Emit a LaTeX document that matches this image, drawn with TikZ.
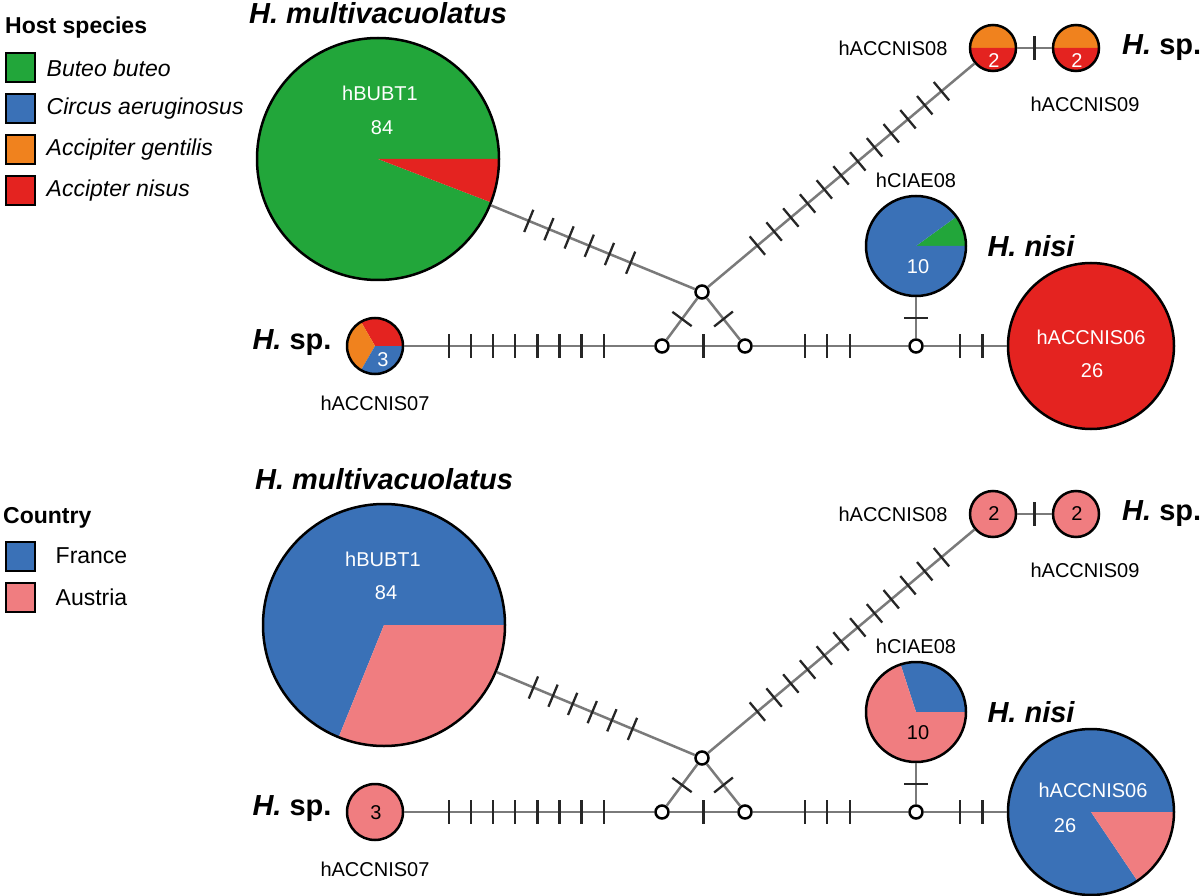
\documentclass[tikz,border=0pt]{standalone}
\usepackage{fontspec}
\setmainfont{Liberation Sans}
\usetikzlibrary{positioning}

\definecolor{hostgreen}{HTML}{22A63A}
\definecolor{hostblue}{HTML}{3A71B7}
\definecolor{hostorange}{HTML}{F0821E}
\definecolor{hostred}{HTML}{E42320}
\definecolor{austriapink}{HTML}{F07D80}
\definecolor{edgegray}{HTML}{7A7A7A}
\definecolor{tickgray}{HTML}{262626}

\tikzset{
  hap/.style={circle, draw=black, line width=2.5pt, inner sep=0pt},
  median/.style={circle, draw=black, fill=white, line width=2.5pt, minimum size=13pt, inner sep=0pt},
  link/.style={draw=edgegray, line width=2.5pt},
  tickspot/.style={sloped, minimum height=24pt, minimum width=0pt, inner sep=0pt, outer sep=0pt},
  tickmark/.style={draw=tickgray, line width=2.3pt},
  lbl/.style={font=\fontsize{20}{24}\selectfont, inner sep=0pt},
  sptitle/.style={font=\fontsize{29}{34}\selectfont\bfseries, inner sep=0pt},
  legsq/.style={draw=black, line width=2pt, minimum size=29pt, inner sep=0pt},
  legtxt/.style={font=\fontsize{23}{28}\selectfont, inner sep=0pt, anchor=west},
  leghead/.style={font=\fontsize{23}{28}\selectfont\bfseries, inner sep=0pt, anchor=west},
}

% centre, radius, start angle, end angle, colour
\newcommand{\pieslice}[5]{\fill[#5] (#1) -- ++(#3:#2) arc[start angle=#3, end angle=#4, radius=#2] -- cycle;}

% medians, links, mutation ticks and names: the same in both panels
\newcommand{\hapnet}{
  \node[median] (m1) at (702,292) {};
  \node[median] (m2) at (662,346) {};
  \node[median] (m3) at (745,346) {};
  \node[median] (m4) at (916,346) {};
  \draw[link] (bubt) -- (m1);
  \draw[link] (m1) -- (accn08);
  \draw[link] (accn08) -- (accn09);
  \draw[link] (accn07) -- (m2);
  \draw[link] (m2) -- (m3);
  \draw[link] (m2) -- (m1);
  \draw[link] (m3) -- (m1);
  \draw[link] (m3) -- (m4);
  \draw[link] (m4) -- (accn06);
  \draw[link] (m4) -- (ciae08);
  \foreach \p in {0.185,0.284,0.383,0.482,0.581,0.685}
    {\path (bubt) -- (m1) node[tickspot, pos=\p] (tk) {}; \draw[tickmark] (tk.north) -- (tk.south);}
  \foreach \k in {0,...,11}
    {\path (m1) -- (accn08) node[tickspot, pos=0.1855+0.0628*\k] (tk) {}; \draw[tickmark] (tk.north) -- (tk.south);}
  \foreach \k in {0,...,7}
    {\path (accn07) -- (m2) node[tickspot, pos=0.179+0.0884*\k] (tk) {}; \draw[tickmark] (tk.north) -- (tk.south);}
  \foreach \p in {0.338,0.478,0.624}
    {\path (m3) -- (m4) node[tickspot, pos=\p] (tk) {}; \draw[tickmark] (tk.north) -- (tk.south);}
  \foreach \p in {0.435,0.706}
    {\path (m4) -- (accn06) node[tickspot, pos=\p] (tk) {}; \draw[tickmark] (tk.north) -- (tk.south);}
  \foreach \a/\b in {accn08/accn09, m2/m3, m2/m1, m3/m1, m4/ciae08}
    {\path (\a) -- (\b) node[tickspot, pos=0.5] (tk) {}; \draw[tickmark] (tk.north) -- (tk.south);}
  \node[lbl] (lab08) at (893,48) {hACCNIS08};
  \node[lbl] (lab09) at (1085,104) {hACCNIS09};
  \node[lbl] (lab07) at (375,403) {hACCNIS07};
  \node[lbl] (labciae) at (916,180) {hCIAE08};
  \node[sptitle, above=13pt of bubt] (tmulti) {\itshape H. multivacuolatus};
  \node[sptitle] (tsp1) at (292,343) {\textit{H.} sp.};
  \node[sptitle, anchor=west] (tsp2) at (1122,48) {\textit{H.} sp.};
  \node[sptitle] (tnisi) at (1031,246) {\itshape H. nisi};
}

\begin{document}
\begin{tikzpicture}[x=1pt, y=-1pt]
\useasboundingbox (0,0) rectangle (1200,896);

% host species
\begin{scope}[name prefix=t-]
  \node[leghead] (head) at (5,28) {Host species};
  \node[legsq, fill=hostgreen] (sq1) at (20,68) {};
  \node[legsq, fill=hostblue] (sq2) at (20,109) {};
  \node[legsq, fill=hostorange] (sq3) at (20,150) {};
  \node[legsq, fill=hostred] (sq4) at (20,191) {};
  \node[legtxt, right=11pt of sq1] (leg1) {\itshape Buteo buteo};
  \node[legtxt, right=11pt of sq2] (leg2) {\itshape Circus aeruginosus};
  \node[legtxt, right=11pt of sq3] (leg3) {\itshape Accipiter gentilis};
  \node[legtxt, right=11pt of sq4] (leg4) {\itshape Accipter nisus};

  \pieslice{378,159}{121pt}{0}{339}{hostgreen}
  \pieslice{378,159}{121pt}{339}{360}{hostred}
  \node[hap, minimum size=242pt] (bubt) at (378,159) {};
  \node[lbl, white] (bubt-n) at (380,93) {hBUBT1};
  \node[lbl, white] (bubt-c) at (382,128) {84};

  \pieslice{916,246}{50pt}{0}{36}{hostgreen}
  \pieslice{916,246}{50pt}{36}{360}{hostblue}
  \node[hap, minimum size=100pt] (ciae08) at (916,246) {};
  \node[lbl, white] (ciae08-c) at (918,267) {10};

  \pieslice{993,48}{23pt}{0}{180}{hostorange}
  \pieslice{993,48}{23pt}{180}{360}{hostred}
  \node[hap, minimum size=46pt] (accn08) at (993,48) {};
  \node[lbl, white] (accn08-c) at (994,61) {2};

  \pieslice{1076,48}{23pt}{0}{180}{hostorange}
  \pieslice{1076,48}{23pt}{180}{360}{hostred}
  \node[hap, minimum size=46pt] (accn09) at (1076,48) {};
  \node[lbl, white] (accn09-c) at (1077,61) {2};

  \pieslice{375,346}{28pt}{0}{120}{hostred}
  \pieslice{375,346}{28pt}{120}{240}{hostorange}
  \pieslice{375,346}{28pt}{240}{360}{hostblue}
  \node[hap, minimum size=56pt] (accn07) at (375,346) {};
  \node[lbl, white] (accn07-c) at (383,360) {3};

  \pieslice{1091,346}{83pt}{0}{360}{hostred}
  \node[hap, minimum size=166pt] (accn06) at (1091,346) {};
  \node[lbl, white] (accn06-n) at (1091,337) {hACCNIS06};
  \node[lbl, white] (accn06-c) at (1092,371) {26};

  \hapnet
\end{scope}

% country
\begin{scope}[shift={(0,466)}, name prefix=b-]
  \node[leghead] (head) at (3,52) {Country};
  \node[legsq, fill=hostblue] (sq1) at (20,90) {};
  \node[legsq, fill=austriapink] (sq2) at (20,131) {};
  \node[legtxt, right=20pt of sq1] (leg1) {France};
  \node[legtxt, right=20pt of sq2] (leg2) {Austria};

  \pieslice{384,159}{121pt}{0}{248}{hostblue}
  \pieslice{384,159}{121pt}{248}{360}{austriapink}
  \node[hap, minimum size=242pt] (bubt) at (384,159) {};
  \node[lbl, white] (bubt-n) at (383,93) {hBUBT1};
  \node[lbl, white] (bubt-c) at (386,127) {84};

  \pieslice{916,246}{50pt}{0}{108}{hostblue}
  \pieslice{916,246}{50pt}{108}{360}{austriapink}
  \node[hap, minimum size=100pt] (ciae08) at (916,246) {};
  \node[lbl] (ciae08-c) at (918,267) {10};

  \pieslice{993,48}{23pt}{0}{360}{austriapink}
  \node[hap, minimum size=46pt] (accn08) at (993,48) {};
  \node[lbl] (accn08-c) at (994,48) {2};

  \pieslice{1076,48}{23pt}{0}{360}{austriapink}
  \node[hap, minimum size=46pt] (accn09) at (1076,48) {};
  \node[lbl] (accn09-c) at (1077,48) {2};

  \pieslice{375,346}{28pt}{0}{360}{austriapink}
  \node[hap, minimum size=56pt] (accn07) at (375,346) {};
  \node[lbl] (accn07-c) at (376,347) {3};

  \pieslice{1091,346}{83pt}{0}{304}{hostblue}
  \pieslice{1091,346}{83pt}{304}{360}{austriapink}
  \node[hap, minimum size=166pt] (accn06) at (1091,346) {};
  \node[lbl, white] (accn06-n) at (1093,324) {hACCNIS06};
  \node[lbl, white] (accn06-c) at (1065,360) {26};

  \hapnet
\end{scope}
\end{tikzpicture}
\end{document}
